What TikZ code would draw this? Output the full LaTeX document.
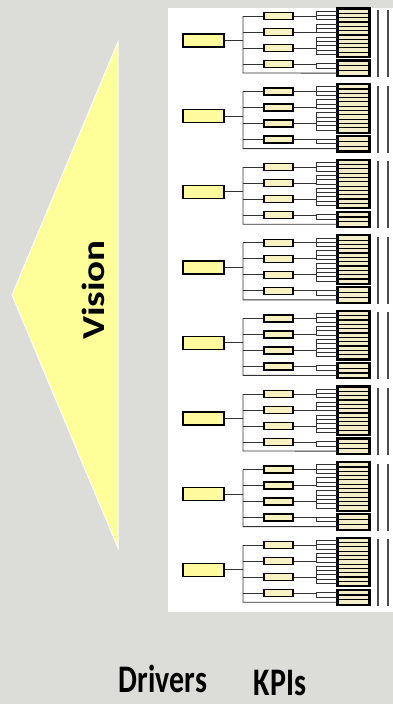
\documentclass[tikz,border=0pt]{standalone}
\usepackage{fontspec}
\setmainfont{Carlito}
\usetikzlibrary{calc, positioning}
\definecolor{bgGray}{HTML}{DCDCD8}
\definecolor{visionYellow}{HTML}{FFFF99}
\definecolor{driverYellow}{HTML}{FFFA9E}
\definecolor{subYellow}{HTML}{F8F2C2}
\definecolor{kpiBeige}{HTML}{F3EDC9}
\begin{document}
\begin{tikzpicture}[x=1pt,y=-1pt,
  driver/.style={draw=black, line width=1.4pt, fill=driverYellow, minimum width=41pt, minimum height=13pt, inner sep=0pt},
  subdriver/.style={draw=black, line width=1.4pt, fill=subYellow, minimum width=29pt, minimum height=7pt, inner sep=0pt},
  kpi/.style={draw=black, line width=1.2pt, fill=kpiBeige, minimum width=31pt, inner sep=0pt},
  link/.style={draw=black!80, line width=0.9pt},
  footlabel/.style={font=\bfseries\fontsize{30}{30}\selectfont, anchor=base, inner sep=0pt, text depth=0pt}]
% Background and white panel
\fill[bgGray] (0,0) rectangle (393,704);
\useasboundingbox (0,0) rectangle (393,704);
\fill[white] (168,8) rectangle (393,612);

% Vision arrow
\filldraw[fill=visionYellow, draw=white, line width=1pt] (118,42) -- (12,295) -- (118,548) -- cycle;
\node[rotate=90, font=\bfseries\fontsize{32}{32}\selectfont, inner sep=0pt] (vision) at (93,290) {\scalebox{1.22}[1]{Vision}};

% Eight driver trees
\foreach \k in {0,...,7} {
  \pgfmathsetmacro{\oy}{75.6*\k}
  \node[driver] (d\k) at (203.5,40.5+\oy) {};
  \coordinate (t\k) at (243,40.5+\oy);
  \coordinate (b\k) at (243,73+\oy);
  % sub drivers
  \foreach \j in {1,...,4}
    \node[subdriver] (m\k-\j) at (278.5,16*\j+\oy) {};
  % KPI stripes
  \foreach \s in {1,...,11}
    \node[kpi, minimum height=4.32pt] (s\k-\s) at (353.5,11.16+4.32*\s-4.32+\oy) {};
  \foreach \s in {12,13,14}
    \node[kpi, minimum height=4.83pt] (s\k-\s) at (353.5,63.42+4.83*\s-57.96+\oy) {};
  \draw[line width=2pt] (s\k-1.north west) rectangle (s\k-11.south east);
  \draw[line width=2pt] (s\k-12.north west) rectangle (s\k-14.south east);
  % trunk
  \draw[link] (d\k.east) -- (t\k);
  \draw[link] (t\k |- m\k-1.west) -- (b\k) -- (s\k-14.west);
  \foreach \j in {1,...,4}
    \draw[link] (t\k |- m\k-\j.west) -- (m\k-\j.west);
  % brackets to KPIs
  \foreach \j/\sa/\sb in {1/1/3, 2/4/6, 3/7/11, 4/12/13}
    \foreach \s in {\sa,...,\sb}
      \draw[link] (m\k-\j.east) -- ++(23,0) |- (s\k-\s.west);
  % right rules
  \draw[black!70, line width=1.5pt] (378,10+\oy) -- (378,77+\oy);
  \draw[black!70, line width=1.5pt] (388,10+\oy) -- (388,77+\oy);
}

% Column labels
\node[footlabel] (drivers) at (163,692) {\scalebox{1}[1.3]{Drivers}};
\node[footlabel] (kpis) at (280,695) {\scalebox{1}[1.3]{KPIs}};
\end{tikzpicture}
\end{document}
